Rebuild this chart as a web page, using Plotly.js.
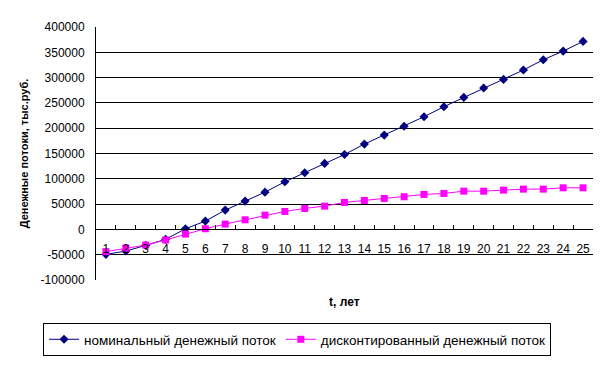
<!DOCTYPE html>
<html>
<head>
<meta charset="utf-8">
<script src="https://cdn.plot.ly/plotly-3.0.1.min.js"></script>
<style>html,body{margin:0;padding:0;background:#fff;}#chart{width:610px;height:365px;}</style>
</head>
<body>
<div id="chart"></div>
<script>
const years = ["1","2","3","4","5","6","7","8","9","10","11","12","13","14","15","16","17","18","19","20","21","22","23","24","25"];
const nominal = [-49300,-42800,-31600,-19700,1300,16400,38100,55900,73600,94100,112000,130400,148000,168600,186400,204000,222700,242500,260900,279300,296400,315000,335300,352400,371500];
const discounted = [-44000,-37000,-31000,-21000,-9300,1300,10500,19000,28200,35500,41400,46000,53300,57200,61200,64500,69100,71000,75600,75600,77600,79600,79600,82200,82200];
const yTickVals = [-100000,-50000,0,50000,100000,150000,200000,250000,300000,350000,400000];
const yTickText = ["-100000","-50000","0","50000","100000","150000","200000","250000","300000","350000","400000"];
const seriesNames = ["номинальный денежный поток","дисконтированный денежный поток"];
const xTitle = "t, лет";
const yTitle = "Денежные потоки, тыс.руб.";

const font = {family: "Liberation Sans, Arial, sans-serif", size: 12, color: "#000"};
const legendFont = {family: "Liberation Sans, Arial, sans-serif", size: 13.5, color: "#000"};
const yMin = -100000, yMax = 400000;

const traces = [
  {x: years, y: nominal, name: seriesNames[0], type: "scatter", mode: "lines+markers",
   line: {color: "#000080", width: 1}, marker: {symbol: "diamond", size: 7, color: "#000080"}},
  {x: years, y: discounted, name: seriesNames[1], type: "scatter", mode: "lines+markers",
   line: {color: "#FF00FF", width: 1}, marker: {symbol: "square", size: 7, color: "#FF00FF"}}
];

const layout = {
  width: 610, height: 365,
  margin: {l: 96, r: 17, t: 27, b: 85, autoexpand: false},
  paper_bgcolor: "#fff", plot_bgcolor: "#fff",
  font: font,
  showlegend: true,
  legend: {orientation: "h", x: -0.1066, xanchor: "left", y: -0.17, yanchor: "top",
           bordercolor: "#000", borderwidth: 1, font: legendFont, tracegroupgap: 0},
  xaxis: {type: "category", anchor: "free", position: (0 - yMin) / (yMax - yMin),
          showline: true, linecolor: "#000", linewidth: 1,
          ticks: "inside", ticklen: 4, tickcolor: "#000", tickson: "boundaries",
          tickangle: 0, automargin: false,
          ticklabelstandoff: 8, showgrid: false, zeroline: false, tickfont: font,
          range: [-0.5, 24.5],
          title: {text: ""}},
  yaxis: {range: [yMin, yMax], tickvals: yTickVals, ticktext: yTickText,
          showline: true, linecolor: "#000", linewidth: 1, automargin: false,
          showgrid: true, gridcolor: "#000", gridwidth: 1, zeroline: false,
          ticks: "", ticklabelstandoff: 8, tickfont: font,
          title: {text: yTitle, font: {family: font.family, size: 11, color: "#000", weight: "bold"}, standoff: 9}},
  annotations: [
    {text: "<b>" + xTitle + "</b>", xref: "paper", yref: "paper", x: 0.5, y: -0.087,
     xanchor: "center", yanchor: "middle", showarrow: false, font: font}
  ]
};

Plotly.newPlot("chart", traces, layout, {displayModeBar: false, staticPlot: true});
</script>
</body>
</html>
